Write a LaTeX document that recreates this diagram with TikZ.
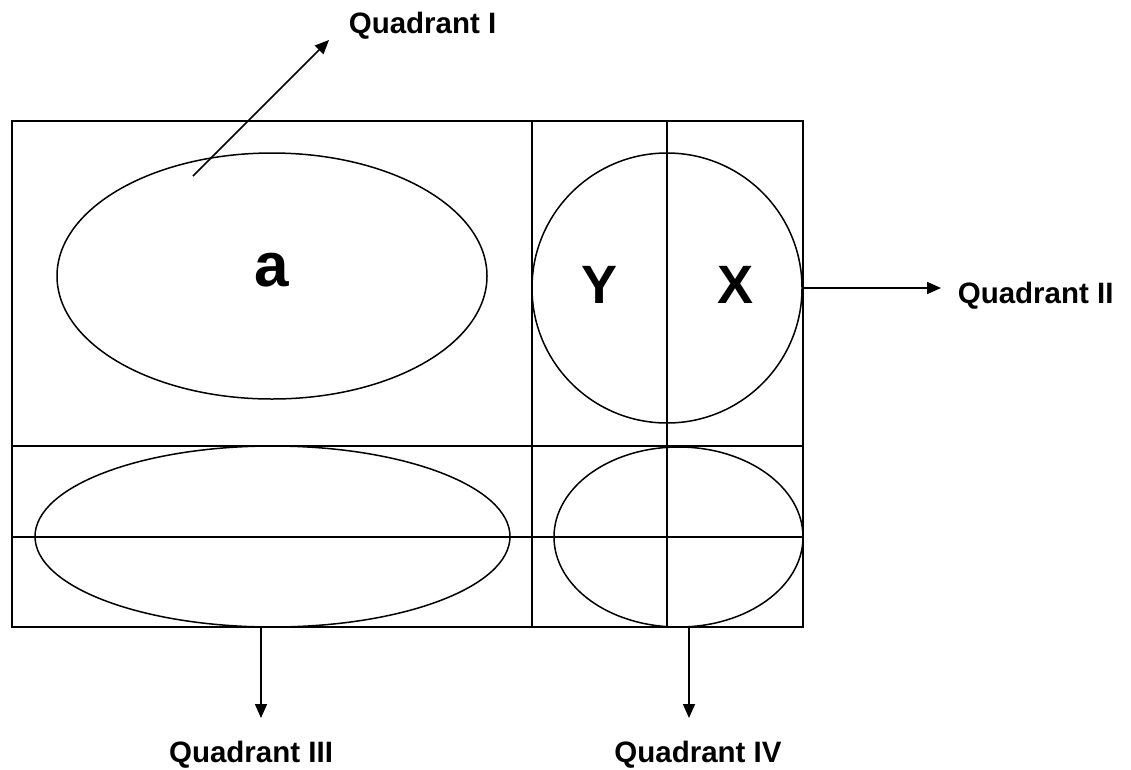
\documentclass[tikz,border=0pt]{standalone}
\usepackage{fontspec}
\setmainfont{Liberation Sans}
\usetikzlibrary{arrows.meta,shapes.geometric}
\begin{document}
\begin{tikzpicture}[x=1pt,y=-1pt,line width=1.6pt,
  oval/.style={draw,ellipse,inner sep=0pt,line width=1.5pt},
  lbl/.style={font=\fontsize{29.5}{31}\selectfont\bfseries,inner sep=0pt},
  big/.style={font=\fontsize{54}{56}\selectfont\bfseries,inner sep=0pt},
  arr/.style={-{Triangle[length=14pt,width=12pt]},line width=1.6pt}]
\useasboundingbox (0,0) rectangle (1131,769);
% grid
\draw (12,121) rectangle (803,627);
\draw (532,121) -- (532,627);
\draw (667,121) -- (667,627);
\draw (12,446) -- (803,446);
\draw (12,537) -- (803,537);
% shapes
\node[oval,minimum width=430pt,minimum height=246pt] (ea) at (272,276) {};
\node[draw,circle,inner sep=0pt,line width=1.5pt,minimum size=270pt] (cq) at (667,288) {};
\node[oval,minimum width=475pt,minimum height=181pt] (eb) at (272.5,536.5) {};
\node[oval,minimum width=249pt,minimum height=180pt] (ec) at (678.5,537) {};
% letters
\node[font=\fontsize{62}{64}\selectfont\bfseries,inner sep=0pt] (la) at (272,270) {a};
\node[big] (ly) at (599,284.5) {Y};
\node[big] (lx) at (735,284.5) {X};
% labels
\node[lbl,anchor=base west] (q1) at (348,33) {Quadrant I};
\node[lbl,anchor=base west] (q2) at (957,303) {Quadrant II};
\node[lbl,anchor=base] (q3) at (251,762) {Quadrant III};
\node[lbl,anchor=base] (q4) at (698,762) {Quadrant IV};
% connector ends
\coordinate (s1) at (193,176);
\coordinate (t1) at (329,40);
\coordinate (t2) at (941,288);
\coordinate (s3) at (261,627);
\coordinate (t3) at (261,718);
\coordinate (s4) at (689,627);
\coordinate (t4) at (689,718);
\draw[arr] (s1) -- (t1);
\draw[arr] (cq.east) -- (t2);
\draw[arr] (s3) -- (t3);
\draw[arr] (s4) -- (t4);
\end{tikzpicture}
\end{document}
